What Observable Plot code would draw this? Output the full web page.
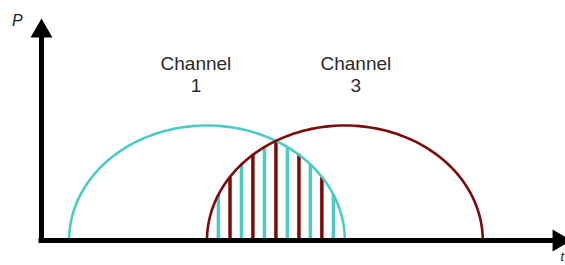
<!DOCTYPE html>
<html>
<head>
<meta charset="utf-8">
<script src="https://cdn.jsdelivr.net/npm/d3@7"></script>
<script src="https://cdn.jsdelivr.net/npm/@observablehq/plot@0.6"></script>
<style>
  html, body { margin: 0; padding: 0; background: #fff; overflow: hidden; }
  #chart svg { display: block; }
</style>
</head>
<body>
<div id="chart"></div>
<script>
// ---- data ----
const channelNames = ["Channel 1", "Channel 3"];
const channelCenters = [1, 2];          // centre frequency (arbitrary units)
const channelHalfWidths = [1, 1];       // half of the channel bandwidth
const channelPeaks = [1, 1];            // peak power
const channelLabels = ["Channel\n1", "Channel\n3"];
const labelX = [0.92, 2.08];
const labelY = [1.615, 1.615];

// sampled power lines in the overlap zone (alternating channels)
const barPositions = [1.083, 1.167, 1.25, 1.333, 1.417, 1.5, 1.583, 1.667, 1.75, 1.833, 1.917];
const barHeights   = [0.40, 0.55, 0.66, 0.75, 0.81, 0.87, 0.81, 0.75, 0.66, 0.55, 0.40];
const barChannels  = ["Channel 1", "Channel 3", "Channel 1", "Channel 3", "Channel 1", "Channel 3",
                      "Channel 1", "Channel 3", "Channel 1", "Channel 3", "Channel 1"];

// axis extents (data units)
const axisXStart = -0.2, axisXEnd = 3.552;
const axisYStart = 0, axisYEnd = 1.82;

// ---- tables built from the arrays ----
const channelCurves = channelNames.flatMap((name, i) =>
  d3.range(0, 181, 2).map(deg => {
    const a = deg * Math.PI / 180;
    return {
      channel: name,
      x: channelCenters[i] - channelHalfWidths[i] * Math.cos(a),
      y: channelPeaks[i] * Math.sin(a)
    };
  })
);
const bars = barPositions.map((x, i) => ({x, h: barHeights[i], channel: barChannels[i]}));
const labels = channelLabels.map((t, i) => ({t, x: labelX[i], y: labelY[i]}));

const font = "'Liberation Sans', Arial, sans-serif";

const chart = Plot.plot({
  width: 565,
  height: 265,
  marginLeft: 41,
  marginRight: 0,
  marginTop: 18,
  marginBottom: 25,
  style: {background: "#fff", fontFamily: font, overflow: "hidden"},
  x: {domain: [-0.2, 3.6], axis: null},
  y: {domain: [0, 1.93], axis: null},
  color: {domain: channelNames, range: ["#4ccbc6", "#7d0a0a"]},
  marks: [
    Plot.ruleX(bars, {x: "x", y1: 0, y2: "h", stroke: "channel", strokeWidth: 3.5}),
    Plot.line(channelCurves, {x: "x", y: "y", z: "channel", stroke: "channel", strokeWidth: 2.6, curve: "linear"}),
    Plot.ruleY([0], {x1: axisXStart, x2: axisXEnd, stroke: "#000", strokeWidth: 5, strokeLinecap: "square"}),
    Plot.ruleX([axisXStart], {y1: axisYStart, y2: axisYEnd, stroke: "#000", strokeWidth: 5, strokeLinecap: "square"}),
    Plot.dot([{x: axisXStart, y: axisYEnd}], {x: "x", y: "y", symbol: "triangle", r: 8.1, fill: "#000", stroke: null}),
    Plot.dot([{x: axisXEnd, y: 0}], {x: "x", y: "y", symbol: "triangle", r: 8.1, fill: "#000", stroke: null, rotate: 90}),
    Plot.text(labels, {x: "x", y: "y", text: "t", fontSize: 19, lineAnchor: "top", lineHeight: 1.16, fill: "#2b2b2b", fontFamily: font}),
    Plot.text(["P"], {frameAnchor: "top-left", dx: -29.5, dy: -4, lineAnchor: "top", textAnchor: "start", fontSize: 16, fontStyle: "italic", fill: "#1a1a2e", fontFamily: font}),
    Plot.text(["t"], {frameAnchor: "bottom-right", dx: -1.5, dy: 11, lineAnchor: "top", textAnchor: "end", fontSize: 13, fontStyle: "italic", fill: "#1a1a2e", fontFamily: font})
  ]
});
document.getElementById("chart").appendChild(chart);
</script>
</body>
</html>
